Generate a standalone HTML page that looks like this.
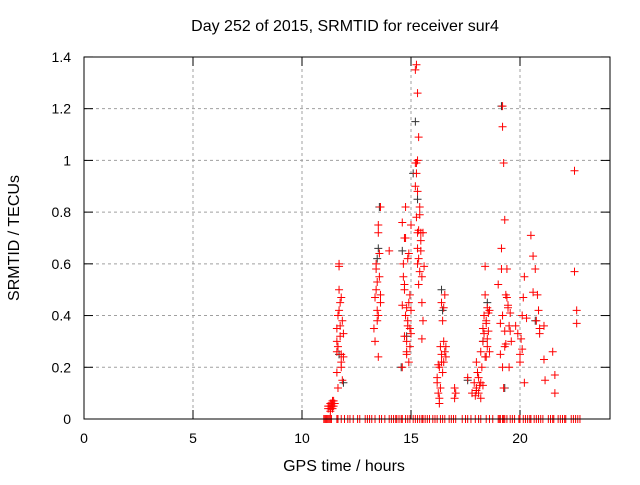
<!DOCTYPE html>
<html><head><meta charset="utf-8"><style>
body{margin:0;background:#fff}
svg text{font-family:"Liberation Sans",sans-serif;font-size:14px;fill:#000}
svg text.big{font-size:16px}
</style></head><body>
<svg id="c" width="640" height="480" xmlns="http://www.w3.org/2000/svg">
<rect width="640" height="480" fill="#fff"/>
<text class="big" x="345" y="31" text-anchor="middle">Day 252 of 2015, SRMTID for receiver sur4</text>
<text class="big" x="344" y="471" text-anchor="middle">GPS time / hours</text>
<text class="big" transform="translate(19,238) rotate(-90)" text-anchor="middle">SRMTID / TECUs</text>
<g id="grid"></g><g id="pts"></g>
<rect x="84" y="57" width="526" height="362" fill="none" stroke="#000"/>
</svg>
<script>
const xTicks=[0,5,10,15,20];
const yTicks=[0,0.2,0.4,0.6,0.8,1,1.2,1.4];
const yLabels=["0","0.2","0.4","0.6","0.8","1","1.2","1.4"];
const seriesX=[11.2,11.25,11.3,11.3,11.35,11.4,11.4,11.45,11.5,11.2,11.3,11.35,11.4,11.45,
11.6,11.6,11.65,11.7,11.7,11.75,11.8,11.8,11.85,11.9,11.6,11.65,11.7,11.75,11.8,11.85,11.9,11.7,11.75,11.8,11.6,11.65,
13.3,13.35,13.4,13.4,13.45,13.5,13.5,13.55,13.6,13.6,13.35,13.45,13.5,13.55,13.4,13.6,13.5,13.45,14.0,
14.6,14.65,14.7,14.75,14.8,14.85,14.9,14.95,15.0,14.6,14.7,14.8,14.9,15.0,14.65,14.75,14.85,14.95,14.7,14.8,14.9,14.6,14.75,14.85,14.95,15.0,14.7,14.8,
15.2,15.2,15.25,15.3,15.3,15.35,15.4,15.45,15.5,15.55,15.6,15.25,15.35,15.45,15.5,15.3,15.4,15.2,15.25,15.3,15.35,15.4,15.5,15.55,15.3,15.35,15.45,15.25,15.3,
16.2,16.25,16.3,16.35,16.4,16.45,16.5,16.55,16.6,16.3,16.4,16.5,16.2,16.35,16.45,16.55,16.3,16.4,16.5,16.25,16.6,
17.0,17.0,17.05,17.6,17.8,17.9,17.95,18.0,18.05,18.1,18.15,18.2,18.25,18.3,18.35,18.4,18.45,18.5,18.55,18.6,18.0,18.1,18.2,18.3,18.4,18.5,18.35,18.45,18.55,18.3,18.4,18.45,18.5,18.2,18.6,18.0,
19.0,19.1,19.15,19.2,19.2,19.25,19.3,19.35,19.4,19.45,19.5,19.55,19.6,19.2,19.3,19.4,19.5,19.1,19.25,19.35,19.45,19.55,19.2,19.3,19.15,
19.8,19.9,20.0,20.05,20.1,20.15,20.2,20.3,20.5,20.6,20.7,20.8,20.85,20.9,20.0,20.1,20.6,20.75,20.9,20.2,
21.1,21.1,21.15,21.5,21.6,21.6,22.5,22.5,22.6,22.6];
const seriesY=[0.04,0.05,0.03,0.06,0.05,0.04,0.07,0.05,0.06,0.05,0.04,0.06,0.05,0.07,
0.35,0.3,0.4,0.5,0.6,0.45,0.25,0.2,0.38,0.33,0.18,0.28,0.42,0.32,0.22,0.15,0.24,0.59,0.36,0.47,0.26,0.12,
0.35,0.47,0.6,0.5,0.42,0.72,0.75,0.55,0.82,0.48,0.3,0.38,0.24,0.64,0.58,0.45,0.4,0.53,0.65,
0.76,0.6,0.5,0.4,0.3,0.36,0.45,0.28,0.33,0.2,0.7,0.25,0.64,0.42,0.55,0.82,0.38,0.48,0.32,0.43,0.22,0.44,0.7,0.62,0.35,0.75,0.52,0.26,
1.35,0.99,1.37,1.26,0.88,1.09,0.79,0.65,0.55,0.72,0.59,0.95,0.73,0.69,0.31,1.0,0.82,0.9,0.78,0.66,0.62,0.57,0.45,0.38,0.6,0.52,0.72,0.99,0.72,
0.14,0.1,0.2,0.28,0.22,0.18,0.3,0.26,0.24,0.08,0.45,0.43,0.16,0.12,0.38,0.48,0.06,0.25,0.22,0.21,0.28,
0.08,0.12,0.1,0.16,0.1,0.14,0.09,0.12,0.18,0.1,0.13,0.08,0.2,0.3,0.4,0.48,0.38,0.28,0.34,0.42,0.22,0.16,0.26,0.35,0.24,0.43,0.33,0.24,0.41,0.13,0.59,0.37,0.31,0.14,0.26,0.11,
0.52,0.37,0.66,1.21,1.13,0.99,0.77,0.48,0.58,0.44,0.36,0.41,0.3,0.4,0.34,0.47,0.2,0.25,0.12,0.29,0.43,0.34,0.2,0.28,0.58,
0.36,0.33,0.22,0.31,0.4,0.47,0.55,0.39,0.71,0.63,0.58,0.48,0.42,0.35,0.25,0.27,0.49,0.38,0.33,0.14,
0.36,0.23,0.15,0.26,0.1,0.17,0.96,0.57,0.42,0.37];
const blackX=[11.7,13.45,13.5,13.55,14.55,14.8,15.1,15.2,15.3,16.4,16.45,17.6,18.5,19.15,19.3,20.7,14.6,11.9,18.3];
const blackY=[0.25,0.62,0.66,0.82,0.2,0.32,0.95,1.15,0.85,0.5,0.42,0.15,0.45,1.21,0.12,0.38,0.65,0.14,0.3];
const zeroX=[11.0,11.05,11.1,11.15,11.2,11.25,11.3,11.35,11.6,11.65,11.8,11.95,12.1,12.2,12.35,12.55,12.65,12.9,13.0,13.1,13.2,13.35,13.55,13.65,13.8,14.0,14.1,14.2,14.3,14.35,14.45,14.55,14.6,14.75,14.85,14.95,15.1,15.2,15.3,15.4,15.5,15.55,15.65,15.75,15.85,16.0,16.1,16.2,16.35,16.45,16.55,16.75,16.85,16.95,17.05,17.35,17.5,17.6,17.75,17.95,18.1,18.2,18.45,18.6,18.75,19.0,19.05,19.1,19.2,19.25,19.3,19.4,19.55,19.65,19.75,19.95,20.0,20.15,20.25,20.35,20.45,20.5,20.65,20.75,20.85,20.95,21.05,21.3,21.4,21.5,21.55,21.75,21.85,21.95,22.05,22.1,22.35,22.45,22.55,22.65,22.75];
const X=v=>84+v*21.8, Y=v=>419-v*258.6;
const NS="http://www.w3.org/2000/svg";
const g=document.getElementById('grid'), p=document.getElementById('pts');
function mk(tag,at,par){const e=document.createElementNS(NS,tag);for(const k in at)e.setAttribute(k,at[k]);par.appendChild(e);return e;}
xTicks.forEach(t=>{
 if(t>0){const l=mk('line',{x1:X(t),x2:X(t),y1:57,y2:419,stroke:'#a0a0a0','stroke-dasharray':'3,3'},g);
 
 }
 mk('line',{x1:X(t),x2:X(t),y1:419,y2:410,stroke:'#000'},g);
 mk('line',{x1:X(t),x2:X(t),y1:57,y2:66,stroke:'#000'},g);
 const tx=mk('text',{x:X(t),y:443,'text-anchor':'middle'},g);tx.textContent=t;
 
 
});
yTicks.forEach((t,i)=>{
 if(t>0&&t<1.4){const l=mk('line',{x1:84,x2:610,y1:Y(t),y2:Y(t),stroke:'#a0a0a0','stroke-dasharray':'3,3'},g);
 
 }
 mk('line',{x1:84,x2:93,y1:Y(t),y2:Y(t),stroke:'#000'},g);
 mk('line',{x1:601,x2:610,y1:Y(t),y2:Y(t),stroke:'#000'},g);
 const tx=mk('text',{x:71,y:Y(t)+5,'text-anchor':'end'},g);tx.textContent=yLabels[i];
 
 
});
function plus(x,y,c,name){
 const e=mk('path',{d:`M${x-4},${y}h8M${x},${y-4}v8`,stroke:c,'stroke-width':1},p);
 
 
}
blackX.forEach((v,i)=>plus(X(v),Y(blackY[i]),'#333','black-point'));
seriesX.forEach((v,i)=>plus(X(v),Y(seriesY[i]),'#f00','red-point'));
zeroX.forEach(v=>plus(X(v),Y(0),'#f00','zero-point'));
</script>
</body></html>
